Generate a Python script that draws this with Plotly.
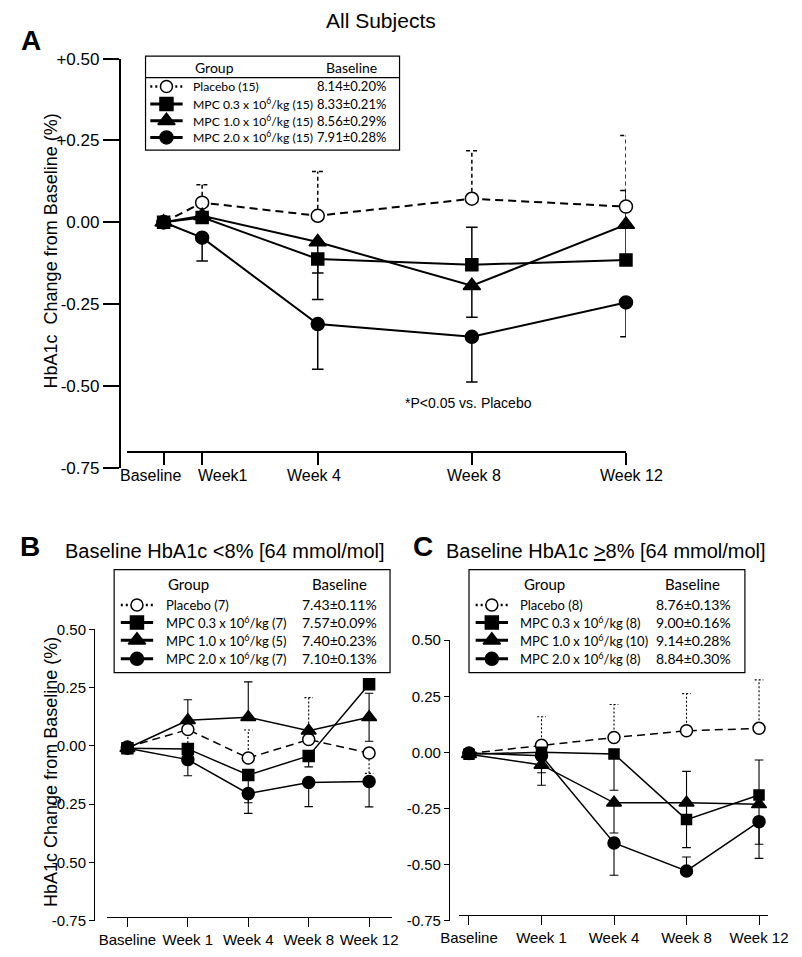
import plotly.graph_objects as go

W, H = 802, 957

# ---------------- data ----------------
weeks_A = [0, 1, 4, 8, 12]
xlabels_A = ["Baseline", "Week1", "Week 4", "Week 8", "Week 12"]
visits_BC = [0, 1, 2, 3, 4]
xlabels_BC = ["Baseline", "Week 1", "Week 4", "Week 8", "Week 12"]
yticks = [-0.75, -0.5, -0.25, 0.0, 0.25, 0.5]
yticklabels_A = ["-0.75", "-0.50", "-0.25", "0.00", "+0.25", "+0.50"]
yticklabels_BC = ["-0.75", "-0.50", "-0.25", "0.00", "0.25", "0.50"]

group_names = ["Placebo", "MPC 0.3 x 10<sup>6</sup>/kg", "MPC 1.0 x 10<sup>6</sup>/kg", "MPC 2.0 x 10<sup>6</sup>/kg"]
n_A = [15, 15, 15, 15]
n_B = [7, 7, 5, 7]
n_C = [8, 8, 10, 8]
baseline_A = ["8.14±0.20%", "8.33±0.21%", "8.56±0.29%", "7.91±0.28%"]
baseline_B = ["7.43±0.11%", "7.57±0.09%", "7.40±0.23%", "7.10±0.13%"]
baseline_C = ["8.76±0.13%", "9.00±0.16%", "9.14±0.28%", "8.84±0.30%"]

# Panel A (all subjects): mean change, upper SE, lower SE
A_placebo = [0.0, 0.06, 0.02, 0.072, 0.048]
A_placebo_up = [0, 0.055, 0.135, 0.147, 0.217]
A_placebo_dn = [0, 0, 0, 0, 0]
A_mpc03 = [0.0, 0.015, -0.112, -0.13, -0.115]
A_mpc03_up = [0, 0, 0, 0.115, 0]
A_mpc03_dn = [0, 0, 0.124, 0, 0]
A_mpc10 = [0.0, 0.02, -0.06, -0.194, -0.007]
A_mpc10_up = [0, 0, 0, 0, 0.104]
A_mpc10_dn = [0, 0, 0.095, 0.096, 0.104]
A_mpc20 = [0.0, -0.047, -0.311, -0.35, -0.245]
A_mpc20_up = [0, 0, 0, 0, 0]
A_mpc20_dn = [0, 0.071, 0.138, 0.138, 0.105]

# Panel B (baseline HbA1c < 8%)
B_placebo = [-0.005, 0.07, -0.052, 0.027, -0.031]
B_placebo_up = [0, 0, 0.12, 0.18, 0]
B_placebo_dn = [0, 0.075, 0, 0, 0.087]
B_mpc03 = [-0.01, -0.013, -0.125, -0.043, 0.265]
B_mpc03_up = [0, 0, 0, 0, 0]
B_mpc03_dn = [0, 0, 0.119, 0.047, 0]
B_mpc10 = [-0.01, 0.11, 0.123, 0.065, 0.123]
B_mpc10_up = [0, 0.088, 0.152, 0, 0.103]
B_mpc10_dn = [0, 0, 0, 0, 0.103]
B_mpc20 = [-0.01, -0.059, -0.205, -0.157, -0.153]
B_mpc20_up = [0, 0, 0, 0, 0]
B_mpc20_dn = [0, 0.069, 0.085, 0.104, 0.109]

# Panel C (baseline HbA1c >= 8%)
C_placebo = [-0.005, 0.032, 0.066, 0.096, 0.107]
C_placebo_up = [0, 0.127, 0.147, 0.166, 0.216]
C_placebo_dn = [0, 0, 0, 0, 0]
C_mpc03 = [-0.008, 0.0, -0.007, -0.30, -0.19]
C_mpc03_up = [0, 0, 0, 0.215, 0.156]
C_mpc03_dn = [0, 0, 0.162, 0, 0]
C_mpc10 = [-0.008, -0.056, -0.225, -0.225, -0.232]
C_mpc10_up = [0, 0, 0, 0, 0]
C_mpc10_dn = [0, 0.035, 0.135, 0.2, 0.178]
C_mpc20 = [-0.003, -0.015, -0.404, -0.529, -0.309]
C_mpc20_up = [0, 0, 0, 0.062, 0]
C_mpc20_dn = [0, 0.132, 0.144, 0, 0.164]

# ---------------- helpers ----------------
AX_FONT = "Liberation Sans, Arial, sans-serif"
LG_FONT = "Lato, sans-serif"


def fx(px):
    return px / W


def fy(py):
    return 1 - py / H


SYMBOLS = ["circle", "square", "triangle-up", "circle"]
FILLS = ["white", "black", "black", "black"]

fig = go.Figure()


def err_trace(xs, ys, up, dn, xa, ya, cap, dash, width):
    X, Y = [], []
    for x, y, u, d in zip(xs, ys, up, dn):
        if u > 0 or d > 0:
            X += [x, x, None]
            Y += [y - d, y + u, None]
        if u > 0:
            X += [x - cap, x + cap, None]
            Y += [y + u, y + u, None]
        if d > 0:
            X += [x - cap, x + cap, None]
            Y += [y - d, y - d, None]
    return go.Scatter(x=X, y=Y, mode="lines", xaxis=xa, yaxis=ya,
                      line=dict(color="black", width=width, dash=dash),
                      showlegend=False, hoverinfo="skip", cliponaxis=False)


def add_panel(xs, series, xa, ya, cap, lw, msizes, plc_err_dash, plc_line_dash, ew):
    for i, (vals, up, dn) in enumerate(series):
        fig.add_trace(err_trace(xs, vals, up, dn, xa, ya, cap,
                                plc_err_dash if i == 0 else "solid", ew))
    for i, (vals, up, dn) in enumerate(series):
        fig.add_trace(go.Scatter(
            x=xs, y=vals, mode="lines+markers", xaxis=xa, yaxis=ya,
            line=dict(color="black", width=lw, dash=plc_line_dash if i == 0 else "solid"),
            marker=dict(symbol=SYMBOLS[i], size=msizes[i], color=FILLS[i],
                        line=dict(color="black", width=1.5)),
            showlegend=False, hoverinfo="skip", cliponaxis=False))


add_panel(weeks_A,
          [(A_placebo, A_placebo_up, A_placebo_dn), (A_mpc03, A_mpc03_up, A_mpc03_dn),
           (A_mpc10, A_mpc10_up, A_mpc10_dn), (A_mpc20, A_mpc20_up, A_mpc20_dn)],
          "x", "y", 0.15, 2, [13, 12, 15, 13], "4px,3px", "8px,5px", 1.5)
add_panel(visits_BC,
          [(B_placebo, B_placebo_up, B_placebo_dn), (B_mpc03, B_mpc03_up, B_mpc03_dn),
           (B_mpc10, B_mpc10_up, B_mpc10_dn), (B_mpc20, B_mpc20_up, B_mpc20_dn)],
          "x2", "y2", 0.07, 1.5, [12, 11, 13, 12], "2px,2px", "8px,5px", 1.1)
add_panel(visits_BC,
          [(C_placebo, C_placebo_up, C_placebo_dn), (C_mpc03, C_mpc03_up, C_mpc03_dn),
           (C_mpc10, C_mpc10_up, C_mpc10_dn), (C_mpc20, C_mpc20_up, C_mpc20_dn)],
          "x3", "y3", 0.06, 1.5, [12, 10, 13, 12], "2px,2px", "8px,5px", 1.1)

# ---------------- legends (pixel overlay axis) ----------------
annotations = []
shapes = []


def legend(box, sep, head_y, group_x, base_x, rows, sym_x0, sym_x1, mark_x, lab_x, val_x, ns, vals,
           msz, lw, lab_size, val_size):
    x0, y0, x1, y1 = box
    shapes.append(dict(type="rect", xref="x4", yref="y4", x0=x0, y0=y0, x1=x1, y1=y1,
                       line=dict(color="black", width=1.2), fillcolor="white", layer="below"))
    if sep is not None:
        shapes.append(dict(type="line", xref="x4", yref="y4", x0=x0, x1=x1, y0=sep, y1=sep,
                           line=dict(color="black", width=1.2)))
    for t, gx in (("Group", group_x), ("Baseline", base_x)):
        annotations.append(dict(xref="x4", yref="y4", x=gx, y=head_y, text=t, showarrow=False,
                                xanchor="center", yanchor="middle",
                                font=dict(family=LG_FONT, size=val_size + 1, color="black")))
    for i, ry in enumerate(rows):
        fig.add_trace(go.Scatter(x=[sym_x0, sym_x1], y=[ry, ry], mode="lines", xaxis="x4", yaxis="y4",
                                 line=dict(color="black", width=2.5 if i == 0 else lw,
                                           dash="2px,3px" if i == 0 else "solid"),
                                 showlegend=False, hoverinfo="skip"))
        fig.add_trace(go.Scatter(x=[mark_x], y=[ry], mode="markers", xaxis="x4", yaxis="y4",
                                 marker=dict(symbol=SYMBOLS[i], size=msz[i], color=FILLS[i],
                                             line=dict(color="black", width=1.5)),
                                 showlegend=False, hoverinfo="skip"))
        annotations.append(dict(xref="x4", yref="y4", x=lab_x, y=ry, text=f"{group_names[i]} ({ns[i]})",
                                showarrow=False, xanchor="left", yanchor="middle",
                                font=dict(family=LG_FONT, size=lab_size, color="black")))
        annotations.append(dict(xref="x4", yref="y4", x=val_x, y=ry, text=vals[i],
                                showarrow=False, xanchor="right", yanchor="middle",
                                font=dict(family=LG_FONT, size=val_size, color="black")))


legend((133, 48, 400, 144), 70, 60, 206, 349, [79, 97, 114, 131], 138, 172, 155, 181, 388,
       n_A, baseline_A, [12, 13, 15, 13], 3, 12.2, 13)
legend((100, 572, 390, 677), None, 587, 178, 337, [608, 626, 644, 663], 107, 141, 124, 152, 378,
       n_B, baseline_B, [12, 13, 15, 13], 3, 13, 14)
legend((473, 572, 763, 677), None, 587, 552, 708, [608, 626, 644, 663], 480, 514, 497, 524, 750,
       n_C, baseline_C, [12, 13, 15, 13], 3, 13, 14)

# ---------------- texts ----------------
def txt(x, y, text, size, bold=False, angle=0, family=AX_FONT, xanchor="center"):
    annotations.append(dict(xref="paper", yref="paper", x=fx(x), y=fy(y), text=f"<b>{text}</b>" if bold else text,
                            showarrow=False, xanchor=xanchor, yanchor="middle", textangle=angle,
                            font=dict(family=family, size=size, color="black")))


txt(380, 12, "All Subjects", 21)
txt(13, 32, "A", 28, bold=True)
txt(12, 548, "B", 28, bold=True)
txt(425, 548, "C", 28, bold=True)
txt(217, 553, "Baseline HbA1c &lt;8% [64 mmol/mol]", 20)
txt(617, 553, "Baseline HbA1c <u>&gt;</u>8% [64 mmol/mol]", 20)
txt(34, 247, "HbA1c\u00a0 Change from Baseline (%)", 18, angle=-90)
txt(33, 778, "HbA1c Change from Baseline (%)", 18, angle=-90)
txt(473, 402, "*P&lt;0.05 vs. Placebo", 14)

# x tick labels of panel A (shifted apart like the original)
shifts_A = [-13, 21, -4, 2, 6]
for wk, lab, sh in zip(weeks_A, xlabels_A, shifts_A):
    annotations.append(dict(xref="x", yref="paper", x=wk, y=fy(476), text=lab, showarrow=False,
                            xanchor="center", yanchor="middle", xshift=sh,
                            font=dict(family=AX_FONT, size=16, color="black")))

# ---------------- axes ----------------
common_x = dict(showgrid=False, zeroline=False, showline=True, linecolor="black", ticks="outside",
                tickcolor="black", anchor="free", fixedrange=True, ticklabeloverflow="allow",
                tickangle=0)
common_y = dict(showgrid=False, zeroline=False, showline=True, linecolor="black", ticks="outside",
                tickcolor="black", anchor="free", range=[-0.75, 0.5], tickvals=yticks, fixedrange=True,
                ticklabeloverflow="allow")

fig.update_layout(
    width=W, height=H, margin=dict(l=0, r=0, t=0, b=0),
    paper_bgcolor="white", plot_bgcolor="rgba(0,0,0,0)", showlegend=False,
    xaxis=dict(common_x, domain=[fx(113), fx(638)], range=[-0.963, 12], position=fy(452),
               linewidth=2, ticklen=12, tickwidth=1.5, tickvals=weeks_A, showticklabels=False),
    yaxis=dict(common_y, domain=[fy(468), fy(50.7)], position=fx(106), linewidth=2, ticklen=16,
               tickwidth=1.5, ticktext=yticklabels_A, tickfont=dict(family=AX_FONT, size=17, color="black")),
    xaxis2=dict(common_x, domain=[fx(92), fx(392)], range=[-0.346, 4.378], position=fy(926),
                linewidth=1.3, ticklen=9, tickwidth=1.2, tickvals=visits_BC, ticktext=xlabels_BC,
                tickfont=dict(family=AX_FONT, size=15, color="black")),
    yaxis2=dict(common_y, domain=[fy(930), fy(633)], position=fx(79), linewidth=1.3, ticklen=5,
                tickwidth=1.2, ticktext=yticklabels_BC, tickfont=dict(family=AX_FONT, size=15, color="black")),
    xaxis3=dict(common_x, domain=[fx(463), fx(787)], range=[-0.131, 4.12], position=fy(924),
                linewidth=1.3, ticklen=9, tickwidth=1.2, tickvals=visits_BC, ticktext=xlabels_BC,
                tickfont=dict(family=AX_FONT, size=15, color="black")),
    yaxis3=dict(common_y, domain=[fy(930), fy(644)], position=fx(452), linewidth=1.3, ticklen=5,
                tickwidth=1.2, ticktext=yticklabels_BC, tickfont=dict(family=AX_FONT, size=15, color="black")),
    xaxis4=dict(domain=[0, 1], range=[0, W], visible=False, anchor="y4", fixedrange=True),
    yaxis4=dict(domain=[0, 1], range=[H, 0], visible=False, anchor="x4", fixedrange=True),
    annotations=annotations,
    shapes=shapes,
)

fig.write_html("out.html", config={"displayModeBar": False},
               post_script="document.body.style.margin='0px';")
